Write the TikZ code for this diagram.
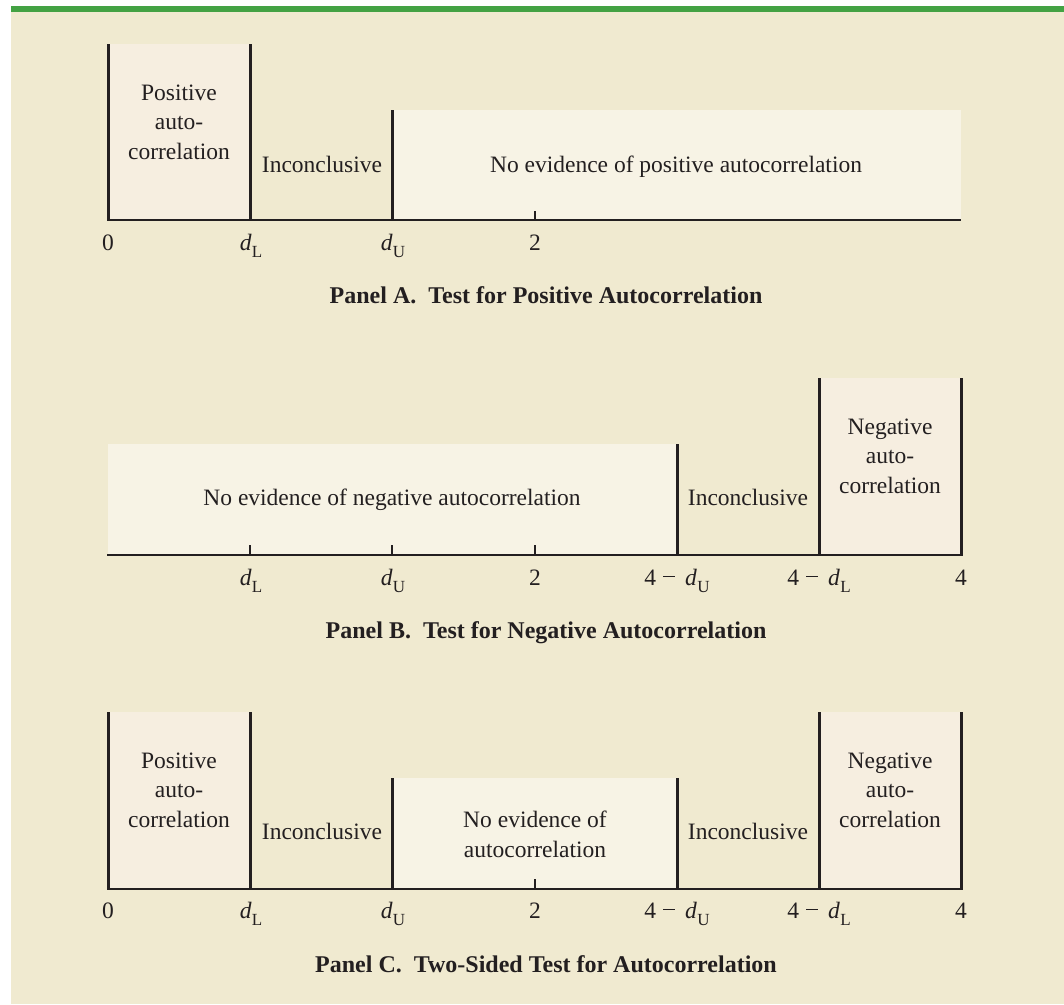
\documentclass[tikz,border=0pt]{standalone}
\usepackage{fontspec}
\setmainfont{Liberation Serif}
\definecolor{bgc}{HTML}{F0EAD0}
\definecolor{pinkc}{HTML}{F6EEE0}
\definecolor{lightc}{HTML}{F7F3E5}
\definecolor{greenc}{HTML}{43A243}
\definecolor{inkc}{HTML}{231F20}
\newcommand\dsub[1]{\textit{d}\kern0.3pt\raisebox{-0.3em}{\fontsize{17}{17}\selectfont #1}}
\newcommand\mns{\hspace{7pt}\rule[8pt]{12pt}{1.3pt}\hspace{10pt}}
\tikzset{
  lbl/.style={font=\fontsize{23.5}{29.5}\selectfont, text=inkc, inner sep=0pt, align=center, anchor=base},
  ttl/.style={font=\fontsize{24}{28}\selectfont\bfseries, text=inkc, inner sep=0pt, anchor=base},
  axlbl/.style={font=\fontsize{23.5}{29.5}\selectfont, text=inkc, inner sep=0pt, anchor=base},
  bar/.style={draw=inkc, line width=3pt},
  axis/.style={draw=inkc, line width=2.2pt},
  tick/.style={draw=inkc, line width=1.5pt},
}
\begin{document}
\begin{tikzpicture}[x=1pt,y=-1pt]
\useasboundingbox (0,0) rectangle (1064,1004);
\fill[white] (0,0) rectangle (1064,1004);
\fill[bgc] (11,12) rectangle (1064,1004);
\fill[greenc] (11,6) rectangle (1064,12);

% ---------- Panel A ----------
\fill[pinkc] (108,44) rectangle (250,220);
\fill[lightc] (392,110) rectangle (961,220);
\draw[axis] (107,220) -- (961,220);
\draw[bar] (108,44) -- (108,221);
\draw[bar] (250,44) -- (250,221);
\draw[bar] (392,110) -- (392,221);
\draw[tick] (535,211) -- (535,220);
\node[lbl] (aPos) at (179,159) {Positive\\auto-\\correlation};
\node[lbl] (aInc) at (322,172) {Inconclusive};
\node[lbl] (aNo) at (676,172) {No evidence of positive autocorrelation};
\node[axlbl] (a0) at (108,250) {0};
\node[axlbl] (adL) at (251,250) {\dsub{L}};
\node[axlbl] (adU) at (393,250) {\dsub{U}};
\node[axlbl] (a2) at (535,250) {2};
\node[ttl] (aT) at (546,303) {Panel A.\ \ Test for Positive Autocorrelation};

% ---------- Panel B ----------
\fill[lightc] (108,444) rectangle (677,555);
\fill[pinkc] (819,378) rectangle (961,555);
\draw[axis] (107,555) -- (962,555);
\draw[bar] (677,444) -- (677,556);
\draw[bar] (819,378) -- (819,556);
\draw[bar] (961,378) -- (961,556);
\draw[tick] (250,545) -- (250,555);
\draw[tick] (392,545) -- (392,555);
\draw[tick] (535,545) -- (535,555);
\node[lbl] (bNo) at (392,505) {No evidence of negative autocorrelation};
\node[lbl] (bInc) at (748,505) {Inconclusive};
\node[lbl] (bNeg) at (890,493) {Negative\\auto-\\correlation};
\node[axlbl] (bdL) at (251,585) {\dsub{L}};
\node[axlbl] (bdU) at (393,585) {\dsub{U}};
\node[axlbl] (b2) at (535,585) {2};
\node[axlbl] (b4dU) at (677,585) {4\mns\dsub{U}};
\node[axlbl] (b4dL) at (819,585) {4\mns\dsub{L}};
\node[axlbl] (b4) at (961,585) {4};
\node[ttl] (bT) at (546,638) {Panel B.\ \ Test for Negative Autocorrelation};

% ---------- Panel C ----------
\fill[pinkc] (108,712) rectangle (250,889);
\fill[lightc] (392,778) rectangle (677,889);
\fill[pinkc] (819,712) rectangle (961,889);
\draw[axis] (107,889) -- (962,889);
\draw[bar] (108,712) -- (108,890);
\draw[bar] (250,712) -- (250,890);
\draw[bar] (392,778) -- (392,890);
\draw[bar] (677,778) -- (677,890);
\draw[bar] (819,712) -- (819,890);
\draw[bar] (961,712) -- (961,890);
\draw[tick] (535,879) -- (535,889);
\node[lbl] (cPos) at (179,827) {Positive\\auto-\\correlation};
\node[lbl] (cInc1) at (322,839) {Inconclusive};
\node[lbl] (cNo) at (535,857) {No evidence of\\autocorrelation};
\node[lbl] (cInc2) at (748,839) {Inconclusive};
\node[lbl] (cNeg) at (890,827) {Negative\\auto-\\correlation};
\node[axlbl] (c0) at (108,918) {0};
\node[axlbl] (cdL) at (251,918) {\dsub{L}};
\node[axlbl] (cdU) at (393,918) {\dsub{U}};
\node[axlbl] (c2) at (535,918) {2};
\node[axlbl] (c4dU) at (677,918) {4\mns\dsub{U}};
\node[axlbl] (c4dL) at (819,918) {4\mns\dsub{L}};
\node[axlbl] (c4) at (961,918) {4};
\node[ttl] (cT) at (546,972) {Panel C.\ \ Two-Sided Test for Autocorrelation};
\end{tikzpicture}
\end{document}
